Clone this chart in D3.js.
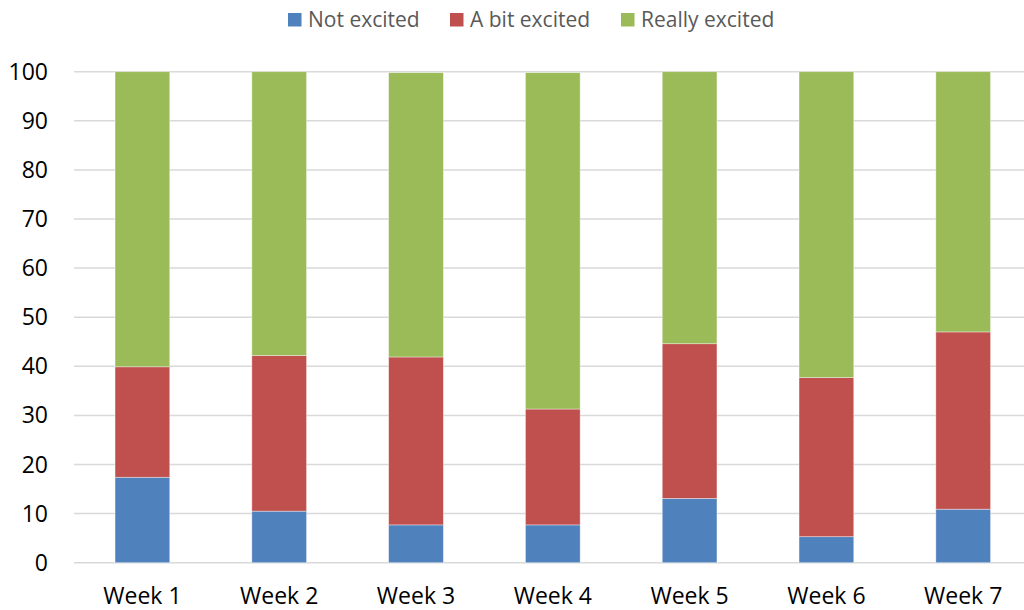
<!DOCTYPE html>
<html><head><meta charset="utf-8">
<script src="https://cdn.jsdelivr.net/npm/d3@7"></script>
<style>body{margin:0;background:#fff}svg{display:block}</style>
</head><body>
<svg id="c" width="1024" height="610"></svg>
<script>
const categories = ["Week 1","Week 2","Week 3","Week 4","Week 5","Week 6","Week 7"];
const seriesNames = ["Not excited","A bit excited","Really excited"];
const notExcited = [17.4, 10.5, 7.7, 7.7, 13.1, 5.3, 10.9];
const aBitExcited = [22.5, 31.7, 34.2, 23.6, 31.5, 32.4, 36.1];
const reallyExcited = [60.1, 57.8, 57.9, 68.5, 55.4, 62.3, 53.0];
const yTicks = [0,10,20,30,40,50,60,70,80,90,100];
const colors = ["#4f81bd","#c0504d","#9bbb59"];

const rows = categories.map((c,i)=>({cat:c, "Not excited":notExcited[i], "A bit excited":aBitExcited[i], "Really excited":reallyExcited[i]}));
const stacked = d3.stack().keys(seriesNames)(rows);

const svg = d3.select("#c");
const font = "'Open Sans', sans-serif";
const x = d3.scaleBand().domain(categories).range([74, 1031.6]).paddingInner(0.6).paddingOuter(0.3);
const y = d3.scaleLinear().domain([0,100]).range([562.7, 71.7]);

// gridlines
svg.append("g").selectAll("line").data(yTicks).join("line")
  .attr("x1",74).attr("x2",1024)
  .attr("y1",d=>y(d)).attr("y2",d=>y(d))
  .attr("stroke","#d9d9d9").attr("stroke-width",1.5);

// y labels
svg.append("g").selectAll("text").data(yTicks).join("text")
  .attr("x",48).attr("y",d=>y(d)+8)
  .attr("text-anchor","end").attr("font-family",font).attr("font-size",23)
  .attr("fill","#000").text(d=>d);

// bars
svg.append("g").selectAll("g").data(stacked).join("g")
  .attr("fill",(d,i)=>colors[i])
  .selectAll("rect").data(d=>d).join("rect")
  .attr("x",d=>x(d.data.cat)).attr("width",x.bandwidth())
  .attr("y",d=>y(d[1])).attr("height",d=>y(d[0])-y(d[1]))
  .attr("stroke","rgba(255,255,255,0.5)").attr("stroke-width",0.75);

// x labels
svg.append("g").selectAll("text").data(categories).join("text")
  .attr("x",d=>x(d)+x.bandwidth()/2).attr("y",604)
  .attr("text-anchor","middle").attr("font-family",font).attr("font-size",23)
  .attr("fill","#000").text(d=>d);

// legend
const legX = [288, 450, 621];
const lg = svg.append("g").selectAll("g").data(seriesNames).join("g")
  .attr("transform",(d,i)=>`translate(${legX[i]},0)`);
lg.append("rect").attr("x",0).attr("y",13).attr("width",13.5).attr("height",13.5).attr("fill",(d,i)=>colors[i]);
lg.append("text").attr("x",20).attr("y",26.7).attr("font-family",font).attr("font-size",21)
  .attr("fill","#595959").text(d=>d);
</script>
</body></html>
